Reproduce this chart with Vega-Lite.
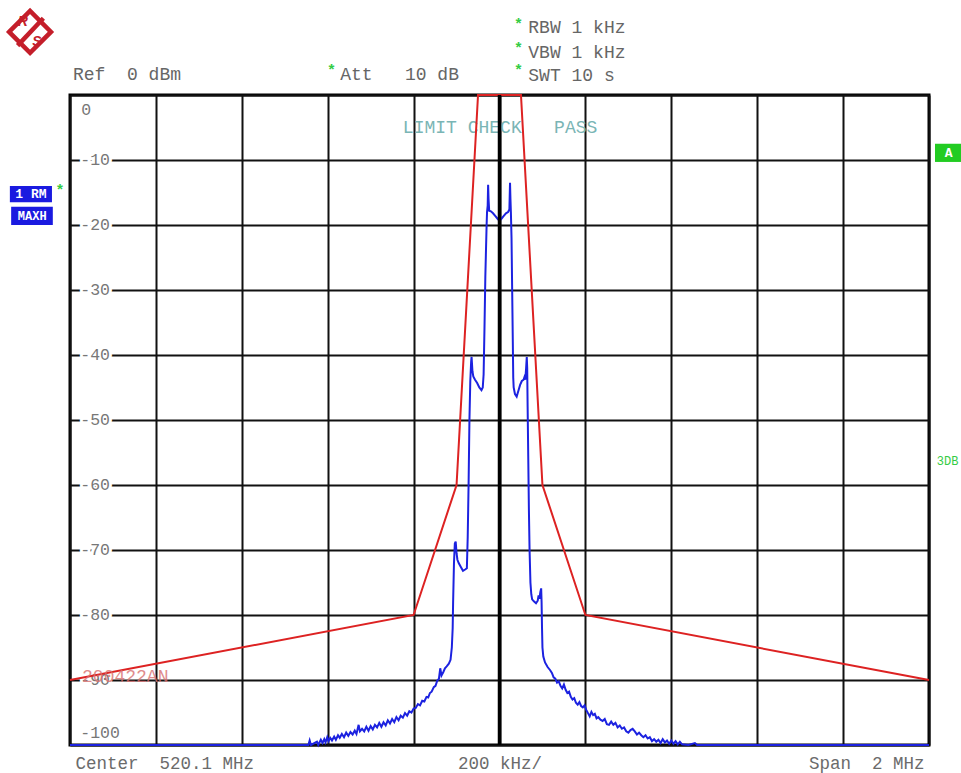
{
  "$schema": "https://vega.github.io/schema/vega-lite/v6.json",
  "description": "Spectrum analyzer screen: max-hold trace against a limit line, 520.1 MHz centre, 2 MHz span.",
  "width": 859,
  "height": 650,
  "autosize": {"type": "none"},
  "padding": {"left": 70, "top": 95, "right": 32, "bottom": 28},
  "background": "white",
  "datasets": {
    "yticks": [
      {"dB": -10, "lab": "-10"}, {"dB": -20, "lab": "-20"}, {"dB": -30, "lab": "-30"},
      {"dB": -40, "lab": "-40"}, {"dB": -50, "lab": "-50"}, {"dB": -60, "lab": "-60"},
      {"dB": -70, "lab": "-70"}, {"dB": -80, "lab": "-80"}, {"dB": -90, "lab": "-90"}
    ],
    "limit": [
      {"f": -1000, "dB": -90}, {"f": -200, "dB": -80}, {"f": -100, "dB": -60}, {"f": -50, "dB": 0},
      {"f": 50, "dB": 0}, {"f": 100, "dB": -60}, {"f": 200, "dB": -80}, {"f": 1000, "dB": -90}
    ],
    "trace": [
      {"f": -1000, "dB": -100}, {"f": -445, "dB": -100}, {"f": -442, "dB": -99.3}, {"f": -439, "dB": -100},
      {"f": -425, "dB": -99.5}, {"f": -422, "dB": -100}, {"f": -416, "dB": -99.2}, {"f": -412, "dB": -99.7},
      {"f": -408, "dB": -99.1}, {"f": -405, "dB": -99.6}, {"f": -401, "dB": -98.8}, {"f": -398, "dB": -99.4},
      {"f": -394, "dB": -98.9}, {"f": -390, "dB": -99.3}, {"f": -385, "dB": -98.7}, {"f": -381, "dB": -99.2},
      {"f": -376, "dB": -98.5}, {"f": -372, "dB": -98.9}, {"f": -367, "dB": -98.3}, {"f": -362, "dB": -98.8},
      {"f": -357, "dB": -98.1}, {"f": -352, "dB": -98.6}, {"f": -347, "dB": -98.0}, {"f": -342, "dB": -98.4},
      {"f": -337, "dB": -97.8}, {"f": -333, "dB": -98.3}, {"f": -328, "dB": -96.9}, {"f": -325, "dB": -97.9},
      {"f": -320, "dB": -97.5}, {"f": -315, "dB": -97.9}, {"f": -310, "dB": -97.2}, {"f": -305, "dB": -97.8},
      {"f": -300, "dB": -97.1}, {"f": -295, "dB": -97.6}, {"f": -290, "dB": -96.9}, {"f": -285, "dB": -97.3},
      {"f": -280, "dB": -96.6}, {"f": -275, "dB": -97.2}, {"f": -270, "dB": -96.5}, {"f": -265, "dB": -97.0},
      {"f": -260, "dB": -96.2}, {"f": -255, "dB": -96.7}, {"f": -250, "dB": -96.0}, {"f": -245, "dB": -96.5},
      {"f": -240, "dB": -95.7}, {"f": -235, "dB": -96.2}, {"f": -230, "dB": -95.5}, {"f": -225, "dB": -95.8},
      {"f": -220, "dB": -95.1}, {"f": -215, "dB": -95.5}, {"f": -210, "dB": -94.8}, {"f": -205, "dB": -95.0},
      {"f": -200, "dB": -94.4}, {"f": -195, "dB": -94.3}, {"f": -190, "dB": -93.7}, {"f": -185, "dB": -93.9},
      {"f": -180, "dB": -93.2}, {"f": -175, "dB": -93.3}, {"f": -170, "dB": -92.6}, {"f": -166, "dB": -92.7},
      {"f": -162, "dB": -92.0}, {"f": -158, "dB": -91.8}, {"f": -153, "dB": -91.1}, {"f": -149, "dB": -90.9},
      {"f": -145, "dB": -90.1}, {"f": -141, "dB": -89.8}, {"f": -138, "dB": -88.2}, {"f": -135, "dB": -89.3},
      {"f": -131, "dB": -88.8}, {"f": -127, "dB": -88.2}, {"f": -123, "dB": -87.9}, {"f": -118, "dB": -87.5},
      {"f": -114, "dB": -86.9}, {"f": -111, "dB": -85.0},
      {"f": -109, "dB": -82}, {"f": -108, "dB": -78}, {"f": -106, "dB": -72}, {"f": -104, "dB": -69},
      {"f": -102, "dB": -68.7}, {"f": -100, "dB": -70.5}, {"f": -98, "dB": -71.5}, {"f": -95, "dB": -72.0},
      {"f": -90, "dB": -72.6}, {"f": -85, "dB": -73.2}, {"f": -80, "dB": -73.0}, {"f": -76, "dB": -72.8},
      {"f": -74, "dB": -68}, {"f": -72, "dB": -60}, {"f": -70, "dB": -50}, {"f": -68, "dB": -44},
      {"f": -66, "dB": -41}, {"f": -65, "dB": -40.3}, {"f": -63, "dB": -42.5}, {"f": -61, "dB": -43.3},
      {"f": -57, "dB": -43.8}, {"f": -52, "dB": -44.3}, {"f": -47, "dB": -45.0}, {"f": -42, "dB": -45.4},
      {"f": -39, "dB": -45.0}, {"f": -37, "dB": -43}, {"f": -35, "dB": -36}, {"f": -33, "dB": -28},
      {"f": -30, "dB": -20}, {"f": -29, "dB": -18}, {"f": -27.5, "dB": -17}, {"f": -26.5, "dB": -13.8},
      {"f": -25.5, "dB": -16}, {"f": -24, "dB": -17.8}, {"f": -20, "dB": -17.9}, {"f": -15, "dB": -18.2},
      {"f": -10, "dB": -18.6}, {"f": -5, "dB": -19.0}, {"f": -1, "dB": -19.3}, {"f": 0, "dB": -19.2},
      {"f": 1, "dB": -19.3}, {"f": 5, "dB": -19.0}, {"f": 10, "dB": -18.6}, {"f": 15, "dB": -18.2},
      {"f": 20, "dB": -18.0}, {"f": 23, "dB": -17.6}, {"f": 24.5, "dB": -13.5}, {"f": 25.5, "dB": -16},
      {"f": 26.5, "dB": -18}, {"f": 28, "dB": -22}, {"f": 29.5, "dB": -30}, {"f": 31, "dB": -38},
      {"f": 32, "dB": -43.5}, {"f": 33, "dB": -45}, {"f": 36, "dB": -46}, {"f": 40, "dB": -46.4},
      {"f": 44, "dB": -45.5}, {"f": 48, "dB": -44.6}, {"f": 52, "dB": -44.0}, {"f": 56, "dB": -43.8},
      {"f": 58, "dB": -43.4}, {"f": 60, "dB": -43.8}, {"f": 62, "dB": -42}, {"f": 63.5, "dB": -40.3},
      {"f": 64.5, "dB": -42}, {"f": 65.5, "dB": -48}, {"f": 67, "dB": -56}, {"f": 68.5, "dB": -64},
      {"f": 70, "dB": -70}, {"f": 72, "dB": -75}, {"f": 74, "dB": -76.8}, {"f": 76, "dB": -77.6},
      {"f": 80, "dB": -77.9}, {"f": 85, "dB": -78.2}, {"f": 89, "dB": -77.8}, {"f": 91, "dB": -77.0},
      {"f": 93, "dB": -77.5}, {"f": 95, "dB": -76.5}, {"f": 97, "dB": -75.9}, {"f": 98, "dB": -78},
      {"f": 99, "dB": -82}, {"f": 100, "dB": -85}, {"f": 102, "dB": -86.4}, {"f": 106, "dB": -87.3},
      {"f": 112, "dB": -88.0}, {"f": 118, "dB": -88.5}, {"f": 122, "dB": -88.9}, {"f": 126, "dB": -89.6},
      {"f": 130, "dB": -89.8}, {"f": 134, "dB": -90.4}, {"f": 138, "dB": -90.2}, {"f": 142, "dB": -90.9},
      {"f": 146, "dB": -91.3}, {"f": 150, "dB": -90.7}, {"f": 154, "dB": -91.5}, {"f": 158, "dB": -92.0},
      {"f": 162, "dB": -91.8}, {"f": 166, "dB": -92.6}, {"f": 170, "dB": -93.0}, {"f": 174, "dB": -92.8},
      {"f": 178, "dB": -93.5}, {"f": 182, "dB": -93.8}, {"f": 186, "dB": -93.4}, {"f": 190, "dB": -94.0},
      {"f": 194, "dB": -94.2}, {"f": 198, "dB": -93.9}, {"f": 202, "dB": -94.6}, {"f": 206, "dB": -95.1},
      {"f": 210, "dB": -95.6}, {"f": 214, "dB": -94.9}, {"f": 218, "dB": -95.4}, {"f": 222, "dB": -95.2},
      {"f": 226, "dB": -95.9}, {"f": 230, "dB": -95.7}, {"f": 235, "dB": -96.1}, {"f": 240, "dB": -96.3},
      {"f": 245, "dB": -96.0}, {"f": 250, "dB": -96.8}, {"f": 255, "dB": -96.9}, {"f": 260, "dB": -96.4},
      {"f": 265, "dB": -96.9}, {"f": 270, "dB": -96.6}, {"f": 275, "dB": -97.3}, {"f": 280, "dB": -97.0},
      {"f": 285, "dB": -97.5}, {"f": 290, "dB": -97.3}, {"f": 295, "dB": -97.9}, {"f": 300, "dB": -98.1},
      {"f": 305, "dB": -97.7}, {"f": 310, "dB": -97.5}, {"f": 315, "dB": -97.9}, {"f": 320, "dB": -98.4},
      {"f": 325, "dB": -98.1}, {"f": 330, "dB": -98.5}, {"f": 335, "dB": -98.8}, {"f": 340, "dB": -98.5},
      {"f": 345, "dB": -99.0}, {"f": 350, "dB": -98.8}, {"f": 355, "dB": -99.4}, {"f": 360, "dB": -99.1},
      {"f": 365, "dB": -99.5}, {"f": 370, "dB": -99.2}, {"f": 375, "dB": -99.7}, {"f": 380, "dB": -99.1},
      {"f": 385, "dB": -99.6}, {"f": 390, "dB": -99.3}, {"f": 395, "dB": -99.8}, {"f": 400, "dB": -99.3},
      {"f": 405, "dB": -99.8}, {"f": 410, "dB": -99.4}, {"f": 415, "dB": -99.9}, {"f": 420, "dB": -99.5},
      {"f": 425, "dB": -99.9}, {"f": 440, "dB": -100}, {"f": 455, "dB": -99.7},
      {"f": 460, "dB": -100}, {"f": 1000, "dB": -100}
    ]
  },
  "layer": [
    {
      "data": {"name": "yticks"},
      "mark": {"type": "text", "align": "left", "baseline": "middle", "fontSize": 16.5, "fill": "white", "stroke": "white", "strokeWidth": 6},
      "encoding": {
        "x": {"datum": -976, "type": "quantitative", "scale": {"domain": [-1000, 1000], "nice": false, "zero": false},
          "axis": {"title": null, "values": [-1000, -800, -600, -400, -200, 0, 200, 400, 600, 800, 1000],
            "grid": true, "gridColor": "#111", "gridWidth": 2, "gridOpacity": 1, "ticks": false, "domain": false,
            "labelExpr": "datum.value == -1000 ? 'Center\u00a0\u00a0520.1 MHz' : datum.value == 0 ? '200 kHz/' : datum.value == 1000 ? 'Span\u00a0\u00a02 MHz' : ''",
            "labelFlush": true, "labelFlushOffset": -5, "labelOverlap": false, "labelPadding": 9,
            "labelFont": "Liberation Mono", "labelFontSize": 17.5, "labelColor": "#6b6b6b"}},
        "y": {"field": "dB", "type": "quantitative", "scale": {"domain": [-100, 0], "nice": false, "zero": false},
          "axis": {"title": null, "values": [-100, -90, -80, -70, -60, -50, -40, -30, -20, -10, 0],
            "grid": true, "gridColor": "#111", "gridWidth": 2, "gridOpacity": 1, "ticks": false, "domain": false, "labels": false}},
        "text": {"field": "lab"}
      }
    },
    {
      "data": {"name": "yticks"},
      "mark": {"type": "text", "align": "left", "baseline": "middle", "fontSize": 16.5, "color": "#777"},
      "encoding": {
        "x": {"datum": -976, "type": "quantitative"},
        "y": {"field": "dB", "type": "quantitative"},
        "text": {"field": "lab"}
      }
    },
    {
      "data": {"values": [{}]},
      "mark": {"type": "text", "align": "left", "baseline": "middle", "fontSize": 16.5, "color": "#777", "dy": 15, "text": "0"},
      "encoding": {"x": {"datum": -974, "type": "quantitative"}, "y": {"datum": 0, "type": "quantitative"}}
    },
    {
      "data": {"values": [{}]},
      "mark": {"type": "text", "align": "left", "baseline": "middle", "fontSize": 16.5, "color": "#777", "dy": -12, "text": "-100"},
      "encoding": {"x": {"datum": -976, "type": "quantitative"}, "y": {"datum": -100, "type": "quantitative"}}
    },
    {
      "data": {"values": [{}]},
      "mark": {"type": "text", "align": "left", "baseline": "middle", "fontSize": 18, "color": "#7ab5b5", "text": "LIMIT CHECK\u00a0\u00a0\u00a0PASS"},
      "encoding": {"x": {"datum": -225, "type": "quantitative"}, "y": {"datum": -5.1, "type": "quantitative"}}
    },
    {
      "data": {"name": "limit"},
      "mark": {"type": "line", "color": "#dd2222", "strokeWidth": 2},
      "encoding": {"x": {"field": "f", "type": "quantitative"}, "y": {"field": "dB", "type": "quantitative"}}
    },
    {
      "data": {"name": "trace"},
      "mark": {"type": "line", "color": "#1c22e0", "strokeWidth": 2},
      "encoding": {"x": {"field": "f", "type": "quantitative"}, "y": {"field": "dB", "type": "quantitative"}}
    },
    {
      "data": {"values": [{}]},
      "mark": {"type": "rule", "color": "#000", "strokeWidth": 3.5},
      "encoding": {"x": {"datum": 0, "type": "quantitative"}}
    },
    {
      "data": {"values": [{}]},
      "mark": {"type": "text", "align": "left", "baseline": "middle", "fontSize": 18, "color": "#d97070", "opacity": 0.8, "text": "200422AN"},
      "encoding": {"x": {"datum": -972, "type": "quantitative"}, "y": {"datum": -89.5, "type": "quantitative"}}
    },
    {
      "data": {"values": [{}]},
      "mark": {"type": "text", "align": "left", "baseline": "middle", "fontSize": 18, "color": "#666", "text": "Ref\u00a0\u00a00 dBm"},
      "encoding": {"x": {"datum": -993, "type": "quantitative"}, "y": {"datum": 3.1, "type": "quantitative"}}
    },
    {
      "data": {"values": [{}]},
      "mark": {"type": "text", "align": "left", "baseline": "middle", "fontSize": 18, "color": "#666", "text": "Att\u00a0\u00a0\u00a010 dB"},
      "encoding": {"x": {"datum": -371, "type": "quantitative"}, "y": {"datum": 3.1, "type": "quantitative"}}
    },
    {
      "data": {"values": [{}]},
      "mark": {"type": "text", "align": "left", "baseline": "middle", "fontSize": 18, "color": "#666", "text": "RBW 1 kHz"},
      "encoding": {"x": {"datum": 67, "type": "quantitative"}, "y": {"datum": 10.3, "type": "quantitative"}}
    },
    {
      "data": {"values": [{}]},
      "mark": {"type": "text", "align": "left", "baseline": "middle", "fontSize": 18, "color": "#666", "text": "VBW 1 kHz"},
      "encoding": {"x": {"datum": 67, "type": "quantitative"}, "y": {"datum": 6.4, "type": "quantitative"}}
    },
    {
      "data": {"values": [{}]},
      "mark": {"type": "text", "align": "left", "baseline": "middle", "fontSize": 18, "color": "#666", "text": "SWT 10 s"},
      "encoding": {"x": {"datum": 67, "type": "quantitative"}, "y": {"datum": 2.9, "type": "quantitative"}}
    },
    {
      "data": {"values": [{"dB": 11.0}, {"dB": 7.3}, {"dB": 3.8}]},
      "mark": {"type": "text", "align": "center", "baseline": "middle", "fontSize": 15, "fontWeight": "bold", "color": "#33cc44", "text": "*"},
      "encoding": {"x": {"datum": 44, "type": "quantitative"}, "y": {"field": "dB", "type": "quantitative"}}
    },
    {
      "data": {"values": [{}]},
      "mark": {"type": "text", "align": "center", "baseline": "middle", "fontSize": 15, "fontWeight": "bold", "color": "#33cc44", "text": "*"},
      "encoding": {"x": {"datum": -391, "type": "quantitative"}, "y": {"datum": 3.8, "type": "quantitative"}}
    },
    {
      "data": {"values": [{}]},
      "mark": {"type": "text", "align": "center", "baseline": "middle", "fontSize": 15, "fontWeight": "bold", "color": "#33cc44", "text": "*"},
      "encoding": {"x": {"datum": -1023, "type": "quantitative"}, "y": {"datum": -14.6, "type": "quantitative"}}
    },
    {
      "data": {"values": [{}]},
      "mark": {"type": "rect", "color": "#1a1ae0"},
      "encoding": {"x": {"datum": -1140, "type": "quantitative"}, "x2": {"datum": -1042}, "y": {"datum": -14.0, "type": "quantitative"}, "y2": {"datum": -16.5}}
    },
    {
      "data": {"values": [{}]},
      "mark": {"type": "rect", "color": "#1a1ae0"},
      "encoding": {"x": {"datum": -1137, "type": "quantitative"}, "x2": {"datum": -1040}, "y": {"datum": -17.2, "type": "quantitative"}, "y2": {"datum": -20.0}}
    },
    {
      "data": {"values": [{}]},
      "mark": {"type": "text", "align": "center", "baseline": "middle", "fontSize": 13, "fontWeight": "bold", "color": "white", "text": "1 RM"},
      "encoding": {"x": {"datum": -1091, "type": "quantitative"}, "y": {"datum": -15.25, "type": "quantitative"}}
    },
    {
      "data": {"values": [{}]},
      "mark": {"type": "text", "align": "center", "baseline": "middle", "fontSize": 12, "fontWeight": "bold", "color": "white", "text": "MAXH"},
      "encoding": {"x": {"datum": -1088, "type": "quantitative"}, "y": {"datum": -18.6, "type": "quantitative"}}
    },
    {
      "data": {"values": [{}]},
      "mark": {"type": "rect", "color": "#22cc22"},
      "encoding": {"x": {"datum": 1014, "type": "quantitative"}, "x2": {"datum": 1075}, "y": {"datum": -7.5, "type": "quantitative"}, "y2": {"datum": -10.3}}
    },
    {
      "data": {"values": [{}]},
      "mark": {"type": "text", "align": "center", "baseline": "middle", "fontSize": 13, "fontWeight": "bold", "color": "white", "text": "A"},
      "encoding": {"x": {"datum": 1046, "type": "quantitative"}, "y": {"datum": -8.9, "type": "quantitative"}}
    },
    {
      "data": {"values": [{}]},
      "mark": {"type": "text", "align": "left", "baseline": "middle", "fontSize": 12, "color": "#33cc44", "text": "3DB"},
      "encoding": {"x": {"datum": 1018, "type": "quantitative"}, "y": {"datum": -56.3, "type": "quantitative"}}
    },
    {
      "data": {"values": [{}]},
      "mark": {"type": "point", "shape": "diamond", "size": 1750, "filled": true, "fill": "white", "stroke": "#c41e2a", "strokeWidth": 4.5, "opacity": 1},
      "encoding": {"x": {"datum": -1093, "type": "quantitative"}, "y": {"datum": 9.7, "type": "quantitative"}}
    },
    {
      "data": {"values": [{}]},
      "mark": {"type": "rule", "color": "#c41e2a", "strokeWidth": 4.5},
      "encoding": {"x": {"datum": -1062, "type": "quantitative"}, "x2": {"datum": -1122}, "y": {"datum": 11.8, "type": "quantitative"}, "y2": {"datum": 7.6}}
    },
    {
      "data": {"values": [{}]},
      "mark": {"type": "text", "align": "center", "baseline": "middle", "fontSize": 14, "font": "Liberation Sans", "fontStyle": "italic", "fontWeight": "bold", "color": "#c41e2a", "text": "R"},
      "encoding": {"x": {"datum": -1110, "type": "quantitative"}, "y": {"datum": 11.3, "type": "quantitative"}}
    },
    {
      "data": {"values": [{}]},
      "mark": {"type": "text", "align": "center", "baseline": "middle", "fontSize": 14, "font": "Liberation Sans", "fontStyle": "italic", "fontWeight": "bold", "color": "#c41e2a", "text": "S"},
      "encoding": {"x": {"datum": -1077, "type": "quantitative"}, "y": {"datum": 8.2, "type": "quantitative"}}
    }
  ],
  "config": {
    "view": {"stroke": "#000", "strokeWidth": 3},
    "text": {"font": "Liberation Mono"}
  }
}
